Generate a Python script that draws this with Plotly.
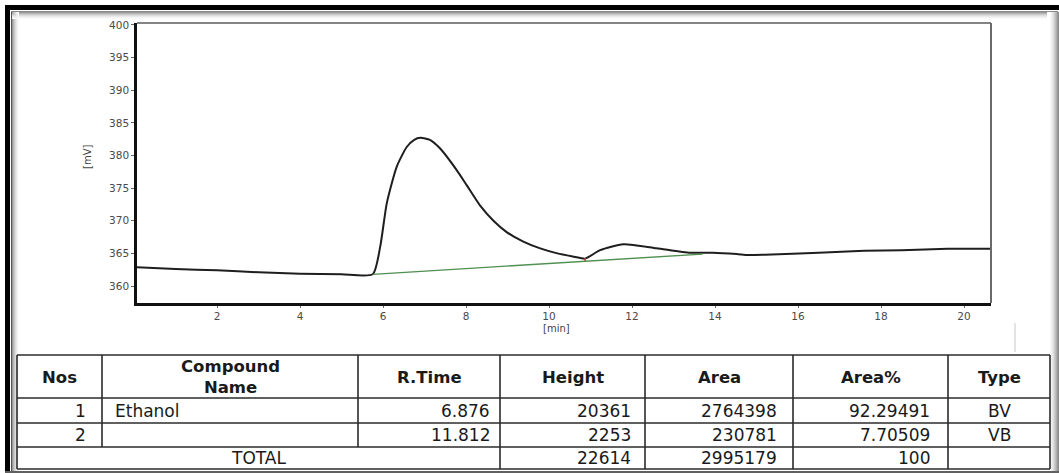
import plotly.graph_objects as go

# Chromatogram trace: retention time [min] vs detector signal [mV]
time_min = [0.05, 1.0, 2.0, 3.0, 4.0, 5.0, 5.75, 5.93, 6.09, 6.33, 6.57, 6.75,
            6.9, 7.13, 7.37, 7.77, 8.01, 8.33, 8.66, 8.97, 9.38, 9.77, 10.2,
            10.6, 10.87, 11.23, 11.79, 12.59, 13.4, 13.95, 14.52, 14.8, 15.2,
            16.5, 17.6, 18.5, 19.6, 20.65]
signal_mv = [362.9, 362.6, 362.4, 362.1, 361.9, 361.8, 361.8, 366.0, 372.7,
             378.3, 381.3, 382.4, 382.7, 382.4, 381.1, 377.8, 375.5, 372.4,
             370.0, 368.3, 366.8, 365.8, 365.0, 364.5, 364.2, 365.5, 366.4,
             365.8, 365.1, 365.1, 364.9, 364.75, 364.8, 365.1, 365.4, 365.5,
             365.7, 365.7]

# Integration baseline drawn under the two peaks
baseline_t = [5.75, 10.87, 13.7]
baseline_mv = [361.8, 363.8, 364.9]

x_ticks = [2, 4, 6, 8, 10, 12, 14, 16, 18, 20]
y_ticks = [360, 365, 370, 375, 380, 385, 390, 395, 400]

# Peak report table
headers = ["Nos", "Compound<br>Name", "R.Time", "Height", "Area", "Area%", "Type"]
nos = ["1", "2"]
compound = ["Ethanol", ""]
r_time = ["6.876", "11.812"]
height = ["20361", "2253"]
area = ["2764398", "230781"]
area_pct = ["92.29491", "7.70509"]
peak_type = ["BV", "VB"]
total_label = "TOTAL"
total_height = "22614"
total_area = "2995179"
total_pct = "100"

W, H = 1059, 473
L, R, T, B = 137, 991, 23, 303


def fx(px):
    return (px - L) / (R - L)


def fy(py):
    return (B - py) / (B - T)


fig = go.Figure()
fig.add_trace(go.Scatter(
    x=time_min, y=signal_mv, mode="lines",
    line=dict(color="#1e1e1e", width=2, shape="spline", smoothing=0.6),
    hoverinfo="skip", showlegend=False))
fig.add_trace(go.Scatter(
    x=baseline_t, y=baseline_mv, mode="lines",
    line=dict(color="#4f8f4f", width=1.3),
    hoverinfo="skip", showlegend=False))
# Peak marker at the valley between peaks
fig.add_trace(go.Scatter(x=[10.87, 10.87], y=[363.8, 364.3], mode="lines",
                         line=dict(color="#c04040", width=1.5),
                         hoverinfo="skip", showlegend=False))

shapes = []


def line(x0, y0, x1, y1, color, width, layer="above"):
    shapes.append(dict(type="line", xref="paper", yref="paper",
                       x0=fx(x0), y0=fy(y0), x1=fx(x1), y1=fy(y1),
                       line=dict(color=color, width=width), layer=layer))


def rect(x0, y0, x1, y1, color, layer="below"):
    shapes.append(dict(type="rect", xref="paper", yref="paper",
                       x0=fx(x0), y0=fy(y0), x1=fx(x1), y1=fy(y1),
                       fillcolor=color, line=dict(width=0), layer=layer))


# Page frame: dark outer rule with soft inner shading
shade = ["#9a9a9a", "#b5b5b5", "#cbcbcb", "#dcdcdc", "#e9e9e9", "#f3f3f3", "#fafafa"]
for i, c in enumerate(shade):
    rect(12 + i, 12, 13 + i, H, c)
    rect(12, 12 + i, W - 12, 13 + i, c)
right_shade = ["#8c8c8c", "#9c9c9c", "#adadad", "#bebebe", "#cecece",
               "#dcdcdc", "#e8e8e8", "#f1f1f1", "#f8f8f8"]
for i, c in enumerate(right_shade):
    rect(W - 1 - i, 12, W - i, H, c)
rect(5, 5, W, 10, "#000000")
rect(5, 5, 10, H, "#000000")
rect(11, 11, 12, H, "#555555")
rect(11, 11, W - 1, 12, "#8a8a8a")
rect(5, H - 2, W, H, "#606060")

# Plot frame: heavy left/bottom axes, lighter top/right edges
line(L, T, R, T, "#5a5a5a", 1.5)
line(R, T, R, B, "#6a6a6a", 2)

# Small stray rule at the right below the plot
line(1015, 323, 1015, 352, "#c8c8c8", 1)

# Table grid
col_x = [17, 102, 358, 500, 645, 793, 948, 1050]
row_y = [355, 398, 423, 447, 469]
tc = "#2b2b2b"
for y in row_y:
    line(col_x[0], y, col_x[-1], y, tc, 1.6)
for x in col_x:
    if x in (102, 358):
        line(x, row_y[0], x, row_y[3], tc, 1.6)
    else:
        line(x, row_y[0], x, row_y[-1], tc, 1.6)

annotations = []
tfont = "DejaVu Sans"


def text(s, x, y, anchor="center", bold=False, size=17):
    annotations.append(dict(
        text=s, xref="paper", yref="paper", x=fx(x), y=fy(y),
        xanchor=anchor, yanchor="middle", showarrow=False,
        font=dict(family=tfont, size=size, color="#1a1a1a",
                  weight="bold" if bold else "normal")))


# Header row
hdr_cy = 377
for i, h in enumerate(headers):
    cx = (col_x[i] + col_x[i + 1]) / 2
    text(h, cx, hdr_cy, bold=True, size=16.5)

row_cy = [411, 435]
for r in range(2):
    y = row_cy[r]
    text(nos[r], col_x[1] - 14, y, "right")
    text(compound[r], col_x[1] + 11, y, "left")
    text(r_time[r], col_x[3] - 8, y, "right")
    text(height[r], col_x[4] - 12, y, "right")
    text(area[r], col_x[5] - 14, y, "right")
    text(area_pct[r], col_x[6] - 16, y, "right")
    text(peak_type[r], (col_x[6] + col_x[7]) / 2, y)

tot_cy = 458
text(total_label, (col_x[0] + col_x[3]) / 2, tot_cy)
text(total_height, col_x[4] - 12, tot_cy, "right")
text(total_area, col_x[5] - 14, tot_cy, "right")
text(total_pct, col_x[6] - 16, tot_cy, "right")

# Axis titles
annotations.append(dict(text="[min]", xref="paper", yref="paper",
                        x=fx(556), y=fy(328), xanchor="center", yanchor="middle",
                        showarrow=False,
                        font=dict(family="DejaVu Sans", size=10, color="#444444")))
annotations.append(dict(text="[mV]", xref="paper", yref="paper",
                        x=fx(87), y=fy(157), xanchor="center", yanchor="middle",
                        showarrow=False, textangle=-90,
                        font=dict(family="DejaVu Sans", size=10, color="#444444")))

axis_font = dict(family="DejaVu Sans", size=10.5, color="#4a4a4a")
fig.update_layout(
    width=W, height=H,
    margin=dict(l=L, r=W - R, t=T, b=H - B, pad=0),
    paper_bgcolor="white", plot_bgcolor="white",
    showlegend=False,
    shapes=shapes, annotations=annotations,
    xaxis=dict(range=[0.07, 20.65], tickvals=x_ticks, ticktext=[str(v) for v in x_ticks],
               showgrid=False, zeroline=False, showline=True, linecolor="#111111",
               linewidth=2.5, ticks="outside", ticklen=2, tickcolor="#666666",
               tickfont=axis_font, fixedrange=True),
    yaxis=dict(range=[357.4, 400.3], tickvals=y_ticks, ticktext=[str(v) for v in y_ticks],
               showgrid=False, zeroline=False, showline=True, linecolor="#111111",
               linewidth=2.5, ticks="outside", ticklen=3, tickcolor="#666666",
               tickfont=axis_font, fixedrange=True),
)

fig.write_html("out.html")
